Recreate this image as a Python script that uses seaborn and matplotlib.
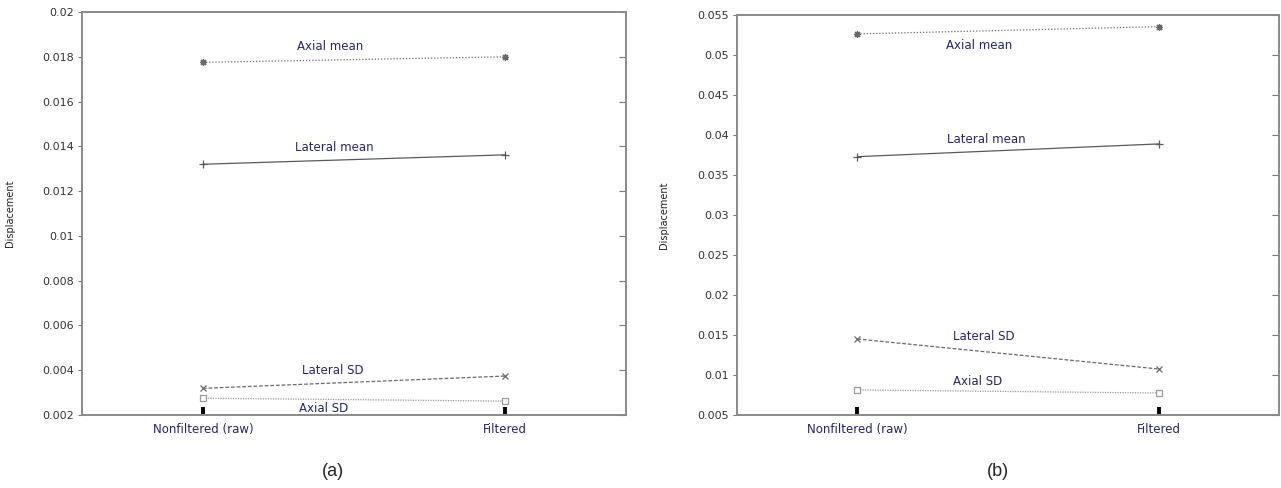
import pandas as pd
import matplotlib
matplotlib.use('Agg')
import matplotlib.pyplot as plt
import seaborn as sns

# Duomenys, nuskaityti nuo paveikslo
salygos = ['Nonfiltered (raw)', 'Filtered']
serijos = ['Axial mean', 'Lateral mean', 'Lateral SD', 'Axial SD']

a_axial_mean = [0.01775, 0.0180]
a_lateral_mean = [0.0132, 0.01362]
a_lateral_sd = [0.00319, 0.00374]
a_axial_sd = [0.00275, 0.00262]

b_axial_mean = [0.05263, 0.05354]
b_lateral_mean = [0.03729, 0.03888]
b_lateral_sd = [0.0145, 0.01075]
b_axial_sd = [0.00813, 0.00775]

# uzrasu vietos (x duomenu vienetais, y reiksme)
a_uzrasai = [(0.42, 0.01844), (0.435, 0.01397), (0.43, 0.00397), (0.40, 0.00231)]
b_uzrasai = [(0.405, 0.05113), (0.427, 0.03946), (0.42, 0.01479), (0.40, 0.00916)]

a_yticks = [0.002, 0.004, 0.006, 0.008, 0.01, 0.012, 0.014, 0.016, 0.018, 0.02]
b_yticks = [0.005, 0.01, 0.015, 0.02, 0.025, 0.03, 0.035, 0.04, 0.045, 0.05, 0.055]

sns.set_style('white')
plt.rcParams['font.family'] = ['DejaVu Sans']

stiliai = {
    'Axial mean': dict(color='#6a6a6a', linestyle=(0, (1, 1.5)), marker=(8, 2, 0), markersize=5, mfc='none'),
    'Lateral mean': dict(color='#5a5a5a', linestyle='-', marker='+', markersize=6),
    'Lateral SD': dict(color='#6a6a6a', linestyle=(0, (3, 1.5)), marker='x', markersize=5),
    'Axial SD': dict(color='#9a9a9a', linestyle=(0, (1, 1)), marker='s', markersize=5, mfc='white'),
}
tamsiai_melyna = '#25256e'


def lentele(reiksmes):
    eilutes = []
    for serija, vals in zip(serijos, reiksmes):
        for s, v in zip(salygos, vals):
            eilutes.append({'Salyga': s, 'Serija': serija, 'Displacement': v})
    return pd.DataFrame(eilutes)


def piesti(ax, df, uzrasai, yticks, ylim, yfmt):
    for serija in serijos:
        d = df[df['Serija'] == serija]
        st = stiliai[serija]
        sns.lineplot(data=d, x='Salyga', y='Displacement', ax=ax, color=st['color'],
                     linestyle=st['linestyle'], marker=st['marker'], markersize=st['markersize'],
                     markerfacecolor=st.get('mfc', st['color']), markeredgecolor=st['color'],
                     markeredgewidth=0.9, linewidth=0.9, legend=False)
    for serija, (x, y) in zip(serijos, uzrasai):
        ax.text(x, y, serija, color=tamsiai_melyna, fontsize=8.5, ha='center', va='center')
    ax.set_xlim(-0.4, 1.4)
    ax.set_ylim(*ylim)
    ax.set_yticks(yticks)
    ax.set_yticklabels([yfmt(t) for t in yticks], fontsize=8, color='#333333')
    ax.set_xticks([0, 1])
    ax.set_xticklabels(salygos, fontsize=8.5, color=tamsiai_melyna)
    ax.set_xlabel('')
    ax.set_ylabel('Displacement', fontsize=7, color='#222222')
    ax.yaxis.set_label_coords(-0.123, 0.5)
    for sp in ax.spines.values():
        sp.set_color('#8a8a8a')
        sp.set_linewidth(1.4)
    ax.tick_params(axis='x', bottom=True, direction='in', length=6, width=2.8, color='black', pad=6)
    ax.tick_params(axis='y', left=True, right=False, direction='out', length=3, width=0.8,
                   color='#777777', pad=3)
    # desines puses zymes i vidu
    desine = ax.secondary_yaxis('right')
    desine.set_yticks(yticks)
    desine.tick_params(direction='in', length=5, width=0.8, color='#777777', labelright=False)
    desine.spines['right'].set_visible(False)


def fmt(t):
    s = f'{t:.3f}'.rstrip('0')
    return s


fig = plt.figure(figsize=(12.81, 4.88), dpi=100)
ax_a = fig.add_axes([0.064, 0.1496, 0.4247, 0.8258])
ax_b = fig.add_axes([0.5753, 0.1496, 0.4231, 0.8197])

piesti(ax_a, lentele([a_axial_mean, a_lateral_mean, a_lateral_sd, a_axial_sd]),
       a_uzrasai, a_yticks, (0.002, 0.02), fmt)
piesti(ax_b, lentele([b_axial_mean, b_lateral_mean, b_lateral_sd, b_axial_sd]),
       b_uzrasai, b_yticks, (0.005, 0.055), fmt)
ax_b.yaxis.set_label_coords(-0.125, 0.5)

fig.text(0.26, 0.033, '(a)', fontsize=13, ha='center', va='center', family=['Liberation Sans'])
fig.text(0.779, 0.033, '(b)', fontsize=13, ha='center', va='center', family=['Liberation Sans'])

plt.savefig('out.png', dpi=100)
